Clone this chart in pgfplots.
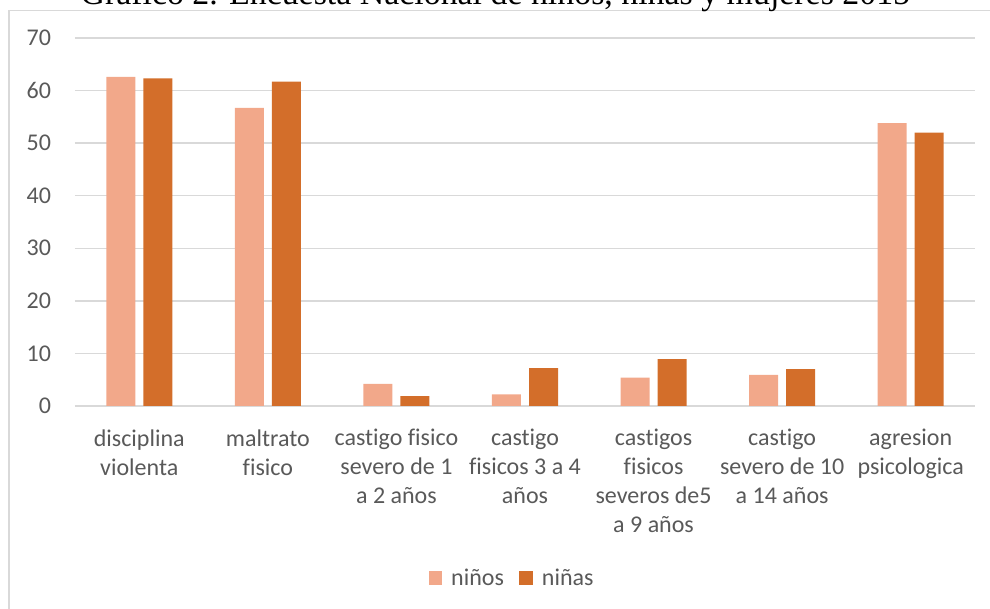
\documentclass[border=0pt]{standalone}
\usepackage{fontspec}
\setmainfont{Carlito}[Ligatures=NoCommon]
\newfontfamily\titlefont{Liberation Serif}
\usepackage{graphicx}
\usepackage{pgfplots}
\pgfplotsset{compat=1.18}
\definecolor{txt}{HTML}{595959}
\definecolor{grd}{HTML}{D9D9D9}
\definecolor{ninos}{HTML}{F2A88A}
\definecolor{ninas}{HTML}{D36E2A}
\begin{document}
\begin{tikzpicture}
\useasboundingbox (0,0) rectangle (742.5pt,-456.75pt);
\clip (0,0) rectangle (742.5pt,-456.75pt);
\draw[grd, line width=1.3pt] (6.75pt,-7.9pt) rectangle (770pt,-480pt);
\node[anchor=base, inner sep=0pt, text=black] at (371.5pt,-3.4pt) {\resizebox{622pt}{!}{\titlefont Gráfico 2. Encuesta Nacional de niños, niñas y mujeres 2015}};
\begin{axis}[
  at={(56.25pt,-304.5pt)}, anchor=south west,
  scale only axis, width=675pt, height=276pt,
  xmin=-0.5, xmax=6.5, ymin=0, ymax=70,
  ytick={0,10,...,70},
  xtick={0,...,6},
  xticklabels={{disciplina\\violenta},{maltrato\\fisico},{castigo fisico\\severo de 1\\a 2 años},{castigo\\fisicos 3 a 4\\años},{castigos\\fisicos\\severos de5\\a 9 años},{castigo\\severo de 10\\a 14 años},{agresion\\psicologica}},
  xticklabel style={align=center, font=\fontsize{18}{21.75}\selectfont, text=txt, yshift=-14pt},
  yticklabel style={font=\fontsize{18}{21.75}\selectfont, text=txt, xshift=-14.5pt},
  /pgf/number format/assume math mode=true,
  axis line style={draw=none},
  major tick length=0pt,
  ymajorgrids, grid style={grd, line width=1pt},
  ybar, bar width=21.75pt,
  legend style={at={(0.486,-0.467)}, anchor=center, draw=none, fill=none,
    legend columns=2, font=\fontsize{18}{21.75}\selectfont, text=txt,
    /tikz/every even column/.append style={column sep=9.5pt}},
  legend image code/.code={\fill[#1] (0pt,-5pt) rectangle (10pt,5pt); \path (15pt,0pt);},
]
\addplot[fill=ninos, draw=none, bar shift=-13.9pt] coordinates {(0,62.6) (1,56.7) (2,4.2) (3,2.2) (4,5.4) (5,5.9) (6,53.8)};
\addplot[fill=ninas, draw=none, bar shift=13.9pt] coordinates {(0,62.3) (1,61.7) (2,1.9) (3,7.2) (4,8.9) (5,7.0) (6,52.0)};
\legend{niños, niñas}
\end{axis}
\end{tikzpicture}
\end{document}
